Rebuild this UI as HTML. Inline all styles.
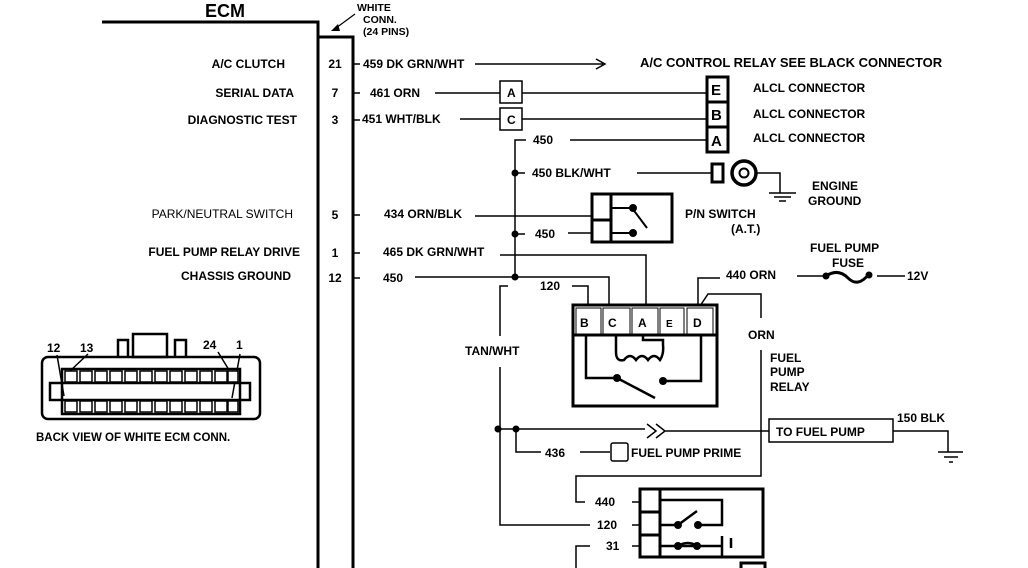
<!DOCTYPE html>
<html><head><meta charset="utf-8"><style>
html,body{margin:0;padding:0;background:#fff}
svg{display:block}
text{font-family:"Liberation Sans",sans-serif;font-weight:bold;font-size:12px;fill:#000}
</style></head><body>
<svg width="1028" height="568" viewBox="0 0 1028 568" xmlns="http://www.w3.org/2000/svg">
<g fill="none" stroke="#000" stroke-width="1.5">
<path d="M102 22H318V568" stroke-width="3"/>
<path d="M318 37H353V568" stroke-width="3"/>
<path d="M355 14L336 28" stroke-width="1.2"/>
<path d="M353 64H360M353 93H360M353 120H360M353 215H360M353 253H360M353 278H360"/>
<path d="M475 64H603M596 59L605 64L596 69"/>
<path d="M435 93H500M522 93H707M460 119H500M522 119H707"/>
<rect x="500" y="81" width="22" height="22"/>
<rect x="500" y="108" width="22" height="22"/>
<rect x="707" y="77" width="21" height="75" stroke-width="3"/>
<path d="M707 102H728M707 127H728" stroke-width="3"/>
<path d="M526 140H515V277M570 140H707"/>
<path d="M515 173H525M637 173H712M515 234H525M568 233H592"/>
<path d="M757 173H780V193M769 193H796M774 197H791M779 201H786"/>
<rect x="712" y="164" width="11" height="18" stroke-width="3"/>
<circle cx="744" cy="173" r="12" stroke-width="3.5"/>
<circle cx="744" cy="173" r="4.5" stroke-width="2"/>
<rect x="592" y="194" width="80" height="48" stroke-width="3"/>
<path d="M611 194V242M592 220H611" stroke-width="3"/>
<path d="M475 216H592"/>
<path d="M611 208H632M632 208L647 228M611 233H632" stroke-width="2"/>
<path d="M500 255H646V305M415 277H609V305"/>
<path d="M508 286H500V336M500 367V525H590M572 286H588V305"/>
<rect x="573" y="305" width="144" height="101" stroke-width="3"/>
<path d="M573 335H717" stroke-width="3"/>
<rect x="576" y="308" width="25" height="26" stroke-width="1"/>
<rect x="603" y="308" width="27" height="26" stroke-width="1"/>
<rect x="632" y="308" width="26" height="26" stroke-width="1"/>
<rect x="660" y="308" width="24" height="26" stroke-width="1"/>
<rect x="687" y="308" width="26" height="26" stroke-width="1"/>
<path d="M586 335V378H617M617 378L655 398M663 381H701V335" stroke-width="2.5"/>
<path d="M616 336V352Q616 362 624 360Q630 352 636 360Q642 352 648 360Q654 352 660 360Q664 354 663 345V340H643V335" stroke-width="2.5"/>
<path d="M698 305V278H720M700 306L708 294H761V318M761 350V476H576V502H585"/>
<path d="M797 276H823M877 276H905"/>
<path d="M826 276Q838 268 848 278Q858 288 869 274" stroke-width="3"/>
<path d="M498 429H645M647 424L656 431L647 438M656 424L665 431L656 438M665 431H769"/>
<rect x="769" y="419" width="124" height="23"/>
<path d="M893 431H948V452M938 452H963M944 457H958M949 462H953"/>
<path d="M516 429V452H541M580 452H610"/>
<rect x="611" y="443" width="17" height="18" rx="2"/>
<rect x="640" y="489" width="123" height="68" stroke-width="3"/>
<path d="M660 489V557M640 512H660M640 535H660" stroke-width="3"/>
<path d="M660 500H722V525H698M660 525H678M678 525L697 511M660 546H722M722 536V557M731 538V548" stroke-width="2.5"/>
<path d="M678 546Q688 540 697 546" stroke-width="2.5"/>
<path d="M632 502H640M632 525H640M632 546H640"/>
<path d="M590 546H576V568"/>
<rect x="741" y="563" width="24" height="10" stroke-width="3"/>
<rect x="42" y="357" width="218" height="62" rx="6" stroke-width="2.5"/>
<rect x="133" y="334" width="34" height="23" stroke-width="2.5"/>
<path d="M118 357V340H128V357M175 357V340H186V357" stroke-width="2.5"/>
<rect x="50" y="383" width="200" height="17" stroke-width="2.5"/>
<rect x="62" y="369" width="178" height="45" stroke-width="2.5"/>
<path d="M57 355L64 396M88 354L70 371M218 352L229 370M240 354L232 398" stroke-width="1.5"/>
</g>
<g fill="#000">
<circle cx="515" cy="173" r="3.5"/><circle cx="515" cy="234" r="3.5"/><circle cx="515" cy="277" r="3.5"/>
<circle cx="633" cy="208" r="4"/><circle cx="633" cy="233" r="4"/>
<circle cx="617" cy="378" r="4"/><circle cx="663" cy="381" r="4"/>
<circle cx="826" cy="276" r="3.5"/><circle cx="869" cy="275" r="3.5"/>
<circle cx="498" cy="429" r="3.5"/><circle cx="516" cy="429" r="3.5"/>
<circle cx="678" cy="525" r="4"/><circle cx="698" cy="525" r="4"/>
<circle cx="678" cy="546" r="4"/><circle cx="697" cy="546" r="4"/>
<path d="M331 31L338 24L340 31Z"/>
<g fill="#fff" stroke="#000" stroke-width="1.5">
<rect x="65" y="371" width="12" height="11"/><rect x="80" y="371" width="12" height="11"/><rect x="95" y="371" width="12" height="11"/><rect x="110" y="371" width="12" height="11"/><rect x="125" y="371" width="12" height="11"/><rect x="140" y="371" width="12" height="11"/><rect x="155" y="371" width="12" height="11"/><rect x="170" y="371" width="12" height="11"/><rect x="185" y="371" width="12" height="11"/><rect x="200" y="371" width="12" height="11"/><rect x="215" y="371" width="12" height="11"/><rect x="228" y="371" width="10" height="11"/>
<rect x="65" y="401" width="12" height="11"/><rect x="80" y="401" width="12" height="11"/><rect x="95" y="401" width="12" height="11"/><rect x="110" y="401" width="12" height="11"/><rect x="125" y="401" width="12" height="11"/><rect x="140" y="401" width="12" height="11"/><rect x="155" y="401" width="12" height="11"/><rect x="170" y="401" width="12" height="11"/><rect x="185" y="401" width="12" height="11"/><rect x="200" y="401" width="12" height="11"/><rect x="215" y="401" width="12" height="11"/><rect x="228" y="401" width="10" height="11"/>
</g>
</g>
<text x="205" y="17" style="font-size:18px">ECM</text>
<text x="357" y="11" style="font-size:10.5px">WHITE</text>
<text x="363" y="23" style="font-size:10.5px">CONN.</text>
<text x="363" y="35" style="font-size:10.5px">(24 PINS)</text>
<g text-anchor="end">
<text x="285" y="68">A/C CLUTCH</text>
<text x="294" y="97">SERIAL DATA</text>
<text x="297" y="124">DIAGNOSTIC TEST</text>
<text x="293" y="218" style="font-weight:normal">PARK/NEUTRAL SWITCH</text>
<text x="300" y="256">FUEL PUMP RELAY DRIVE</text>
<text x="291" y="280">CHASSIS GROUND</text>
</g>
<g text-anchor="middle">
<text x="335" y="68">21</text><text x="335" y="97">7</text><text x="335" y="124">3</text>
<text x="335" y="219">5</text><text x="335" y="257">1</text><text x="335" y="282">12</text>
</g>
<text x="363" y="68">459 DK GRN/WHT</text>
<text x="370" y="97">461 ORN</text>
<text x="362" y="123">451 WHT/BLK</text>
<text x="507" y="97">A</text><text x="507" y="124">C</text>
<text x="640" y="67" style="font-size:13px">A/C CONTROL RELAY SEE BLACK CONNECTOR</text>
<text x="711" y="95" style="font-size:15px">E</text>
<text x="711" y="120" style="font-size:15px">B</text>
<text x="711" y="146" style="font-size:15px">A</text>
<text x="753" y="92">ALCL CONNECTOR</text>
<text x="753" y="118">ALCL CONNECTOR</text>
<text x="753" y="142">ALCL CONNECTOR</text>
<text x="533" y="144">450</text>
<text x="532" y="177">450 BLK/WHT</text>
<text x="812" y="190">ENGINE</text>
<text x="808" y="205">GROUND</text>
<text x="384" y="218">434 ORN/BLK</text>
<text x="535" y="238">450</text>
<text x="685" y="218">P/N SWITCH</text>
<text x="731" y="233">(A.T.)</text>
<text x="383" y="256">465 DK GRN/WHT</text>
<text x="383" y="282">450</text>
<text x="540" y="290">120</text>
<text x="810" y="252">FUEL PUMP</text>
<text x="832" y="267">FUSE</text>
<text x="726" y="279">440 ORN</text>
<text x="907" y="280">12V</text>
<g style="font-size:13px">
<text x="580" y="327">B</text><text x="608" y="327">C</text><text x="638" y="327">A</text><text x="666" y="327" style="font-size:10px">E</text><text x="693" y="327">D</text>
</g>
<text x="465" y="355">TAN/WHT</text>
<text x="748" y="339">ORN</text>
<text x="770" y="362">FUEL</text>
<text x="770" y="376">PUMP</text>
<text x="770" y="391">RELAY</text>
<text x="776" y="436">TO FUEL PUMP</text>
<text x="897" y="422">150 BLK</text>
<text x="545" y="457">436</text>
<text x="631" y="457">FUEL PUMP PRIME</text>
<text x="595" y="506">440</text>
<text x="597" y="529">120</text>
<text x="606" y="550">31</text>
<text x="47" y="352">12</text><text x="80" y="352">13</text><text x="203" y="349">24</text><text x="236" y="349">1</text>
<text x="36" y="441" style="font-size:11.5px">BACK VIEW OF WHITE ECM CONN.</text>
</svg>
</body></html>
